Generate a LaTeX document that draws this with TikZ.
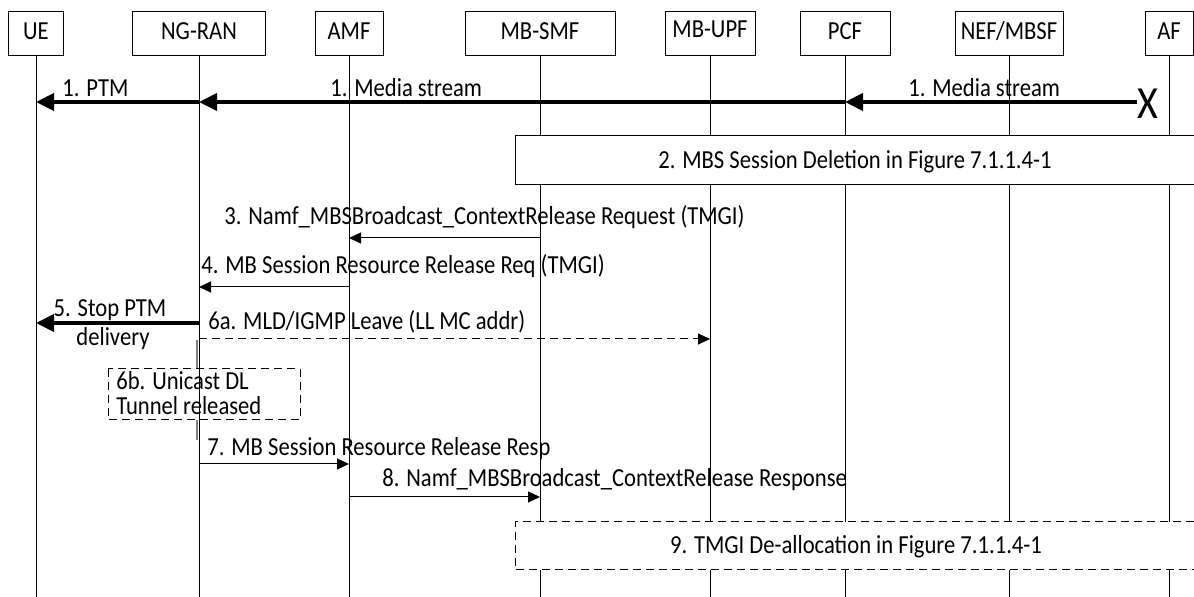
\documentclass[tikz,border=0pt]{standalone}
\usepackage{fontspec}
\setmainfont{Carlito}[FakeStretch=0.87]
\usetikzlibrary{arrows.meta}
\tikzset{
  entity/.style={draw, line width=0.5pt, minimum height=22pt, inner sep=0pt,
    text height=8.4pt, text depth=2.6pt, font=\fontsize{13}{13}\selectfont},
  life/.style={line width=0.5pt},
  msg/.style={-{Triangle[length=6pt,width=5.5pt]}, line width=0.5pt},
  bigmsg/.style={-{Triangle[length=9pt,width=8.5pt]}, line width=2pt},
  lbl/.style={font=\fontsize{13}{13}\selectfont, inner sep=0pt, anchor=base west},
  dash box/.style={line width=0.5pt, dash pattern=on 4pt off 2.5pt}
}
\begin{document}
\begin{tikzpicture}[x=0.5pt, y=-0.5pt]
\useasboundingbox (0,0) rectangle (1194,597);
% entities
\node[entity, minimum width=27.5pt] (ue) at (36,34) {UE};
\node[entity, minimum width=66.5pt] (ngran) at (199,34) {NG-RAN};
\node[entity, minimum width=34pt] (amf) at (349,34) {AMF};
\node[entity, minimum width=75pt] (mbsmf) at (540,34) {MB-SMF};
\node[entity, minimum width=45pt, text depth=4.4pt] (mbupf) at (710,34) {MB-UPF};
\node[entity, minimum width=45pt] (pcf) at (845,34) {PCF};
\node[entity, minimum width=54pt] (nef) at (1009,34) {NEF/MBSF};
\node[entity, minimum width=24pt] (af) at (1169,34) {AF};
% lifelines
\foreach \n in {ue,ngran,amf,mbsmf,mbupf,pcf,nef,af}
  \draw[life] (\n.south) -- (\n.south |- 0,597);
\draw[gray, line width=1pt] (196.5,340) -- (196.5,369) (196.5,420) -- (196.5,440);

% 1. media stream
\node[font=\fontsize{23}{23}\selectfont, inner sep=0pt] (stop) at (1148,104) {X};
\draw[bigmsg] (stop.west |- 0,102) -- (pcf |- 0,102);
\draw[bigmsg] (pcf |- 0,102) -- (ngran |- 0,102);
\draw[bigmsg] (ngran |- 0,102) -- (ue |- 0,102);
\node[lbl] (l1a) at (62,97) {1. PTM};
\node[lbl] (l1b) at (330,97) {1. Media stream};
\node[lbl] (l1c) at (908,97) {1. Media stream};

% 2. session deletion
\fill[white] (515,136) rectangle (1194,185);
\draw[line width=0.5pt] (1194,136) -- (515,136) -- (515,185) -- (1194,185);
\node[lbl, anchor=base] (l2) at (855,169) {2. MBS Session Deletion in Figure 7.1.1.4-1};

% 3 - 4
\draw[msg] (mbsmf |- 0,238) -- (amf |- 0,238);
\node[lbl] (l3) at (224,225) {3. Namf\_MBSBroadcast\_ContextRelease Request (TMGI)};
\draw[msg] (amf |- 0,287) -- (ngran |- 0,287);
\node[lbl] (l4) at (201,274) {4. MB Session Resource Release Req (TMGI)};

% 5 - 6a
\draw[bigmsg] (ngran |- 0,323) -- (ue |- 0,323);
\node[lbl, anchor=base] (l5) at (110,317) {5. Stop PTM};
\node[lbl, anchor=base] (l5b) at (113,346) {delivery};
\draw[msg, dash box] (ngran |- 0,339) -- (mbupf |- 0,339);
\node[lbl] (l6a) at (208,330) {6a. MLD/IGMP Leave (LL MC addr)};

% 6b
\draw[dash box] (108,369) rectangle (300,420);
\node[font=\fontsize{13}{12.5}\selectfont, align=left, inner sep=0pt, anchor=north west] (l6b)
  at (116,371) {6b. Unicast DL\\Tunnel released};

% 7 - 8
\draw[msg] (ngran |- 0,464) -- (amf |- 0,464);
\node[lbl] (l7) at (207,456) {7. MB Session Resource Release Resp};
\draw[msg] (amf |- 0,497) -- (mbsmf |- 0,497);
\node[lbl] (l8) at (382,487) {8. Namf\_MBSBroadcast\_ContextRelease Response};

% 9. TMGI de-allocation
\fill[white] (515,522) rectangle (1194,570);
\draw[dash box] (1194,522) -- (515,522) -- (515,570) -- (1194,570);
\node[lbl, anchor=base] (l9) at (856,554) {9. TMGI De-allocation in Figure 7.1.1.4-1};
\end{tikzpicture}
\end{document}
